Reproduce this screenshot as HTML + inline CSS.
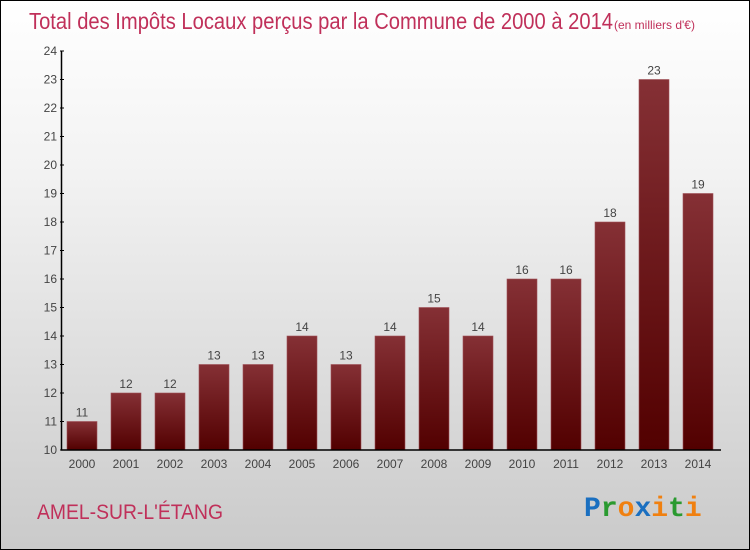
<!DOCTYPE html>
<html><head><meta charset="utf-8"><style>
body{margin:0}
#c{position:relative;width:748px;height:548px;border:1px solid #000;background:linear-gradient(#fff,#f3f3f3 30%,#cacaca);font-family:"Liberation Sans",sans-serif;overflow:hidden}
</style></head><body>
<div id="c">
<svg width="748" height="548">
<text x="28" y="28" font-size="23" fill="#c0305a" font-weight="300" textLength="584" lengthAdjust="spacingAndGlyphs">Total des Impôts Locaux perçus par la Commune de 2000 à 2014</text>
<text x="613" y="28" font-size="12" fill="#c0305a">(en milliers d'€)</text>
<g id="g"></g>
<text x="36" y="518" font-size="21" fill="#c0305a" textLength="186" lengthAdjust="spacingAndGlyphs">AMEL-SUR-L'ÉTANG</text>
<text x="583" y="515" font-size="28" font-weight="bold" font-family="Liberation Mono,monospace"><tspan fill="#1a6fc0">P</tspan><tspan fill="#2a9a30">r</tspan><tspan fill="#f08010">o</tspan><tspan fill="#1a6fc0">x</tspan><tspan fill="#f08010">i</tspan><tspan fill="#2a9a30">t</tspan><tspan fill="#f08010">i</tspan></text>
</svg></div>
<script>
const years=["2000","2001","2002","2003","2004","2005","2006","2007","2008","2009","2010","2011","2012","2013","2014"];
const values=[11,12,12,13,13,14,13,14,15,14,16,16,18,23,19];
const yTicks=[10,11,12,13,14,15,16,17,18,19,20,21,22,23,24];
const ns="http://www.w3.org/2000/svg",g=document.getElementById('g');
const y=v=>449-(v-10)*28.5, x=i=>81+i*44;
function mk(t,a,txt){const e=document.createElementNS(ns,t);for(const k in a)e.setAttribute(k,a[k]);if(txt!=null)e.textContent=txt;g.appendChild(e);return e;}
const defs=mk('defs',{});
defs.innerHTML='<linearGradient id="bg" x1="0" y1="0" x2="0" y2="1"><stop offset="0" stop-color="#853035"/><stop offset="1" stop-color="#520000"/></linearGradient>';
values.forEach((v,i)=>{
 const b=mk('rect',{x:x(i)-15,y:y(v),width:30,height:y(10)-y(v),fill:'url(#bg)',stroke:'#a05058','stroke-width':0.6});
 
 
 const t=mk('text',{x:x(i),y:y(v)-5,'font-size':12,fill:'#444','text-anchor':'middle'},String(v));
 
 
 const xl=mk('text',{x:x(i),y:467,'font-size':12,fill:'#444','text-anchor':'middle'},years[i]);
 
 
});
yTicks.forEach(v=>{
 const l=mk('line',{x1:59,x2:63,y1:y(v),y2:y(v),stroke:'#000'});
 
 
 const t=mk('text',{x:56,y:y(v)+4,'font-size':12,fill:'#444','text-anchor':'end'},String(v));
 
 
});
const ya=mk('line',{x1:60.5,x2:60.5,y1:y(24),y2:y(10),stroke:'#000','stroke-width':1.5});


const xa=mk('line',{x1:60,x2:720,y1:y(10),y2:y(10),stroke:'#000','stroke-width':1.5});


</script>
</body></html>
